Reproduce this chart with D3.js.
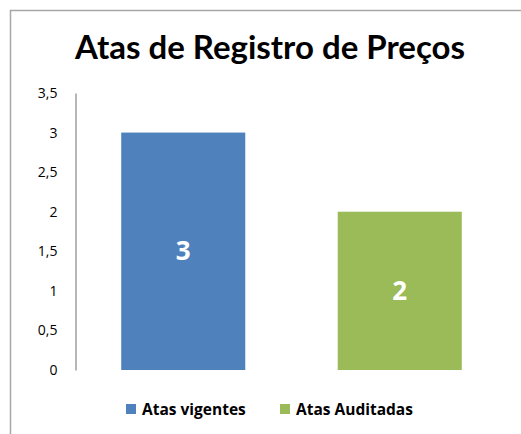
<!DOCTYPE html>
<html><head><meta charset="utf-8">
<script src="https://cdn.jsdelivr.net/npm/d3@7"></script>
<style>body{margin:0;background:#fff}svg{display:block}</style>
</head><body>
<svg id="c" width="521" height="434"></svg>
<script>
const categories = ["Atas vigentes", "Atas Auditadas"];
const values = [3, 2];
const colors = ["#4F81BD", "#9BBB59"];
const yTicks = [0, 0.5, 1, 1.5, 2, 2.5, 3, 3.5];
const title = "Atas de Registro de Preços";

const svg = d3.select("#c");
const font = "Lato, 'Open Sans', sans-serif";
const font2 = "'Open Sans', Lato, sans-serif";

// frame
svg.append("path").attr("d","M10.5,434 L10.5,10.5 L521,10.5")
  .attr("fill","none").attr("stroke","#a6a6a6").attr("stroke-width",1.5);

svg.append("text").attr("x",270).attr("y",59)
  .attr("text-anchor","middle").attr("font-family",font).attr("font-weight","bold")
  .attr("font-size",33).attr("fill","#000").text(title);

const y = d3.scaleLinear().domain([0,3.5]).range([370,93]);
const x = d3.scaleBand().domain(categories).range([75,508]).paddingInner(0.427).paddingOuter(0.2135);

const fmt = d => String(d).replace(".", ",");
const yAxis = d3.axisLeft(y).tickValues(yTicks).tickFormat(fmt).tickSize(0).tickPadding(18);
const ga = svg.append("g").attr("transform","translate(75.5,0)").call(yAxis);
ga.select(".domain").attr("stroke","#868686").attr("stroke-width",1.2);
ga.selectAll("text").attr("font-family",font2).attr("font-size",14).attr("fill","#000");

svg.selectAll("rect.bar").data(values).enter().append("rect").attr("class","bar")
  .attr("x",(d,i)=>x(categories[i])).attr("width",x.bandwidth())
  .attr("y",d=>y(d)).attr("height",d=>y(0)-y(d)).attr("fill",(d,i)=>colors[i]);

svg.selectAll("text.val").data(values).enter().append("text").attr("class","val")
  .attr("x",(d,i)=>x(categories[i])+x.bandwidth()/2)
  .attr("y",d=>(y(d)+y(0))/2+9)
  .attr("text-anchor","middle").attr("font-family",font2).attr("font-weight","bold")
  .attr("font-size",26).attr("fill","#fff").text(d=>d);

// legend
const legX = [126, 280];
const lg = svg.selectAll("g.leg").data(categories).enter().append("g").attr("class","leg")
  .attr("transform",(d,i)=>`translate(${legX[i]},404)`);
lg.append("rect").attr("width",10).attr("height",10).attr("fill",(d,i)=>colors[i]);
lg.append("text").attr("x",16).attr("y",11).attr("font-family",font2).attr("font-weight","bold")
  .attr("font-size",15.5).attr("fill","#000").text(d=>d);
</script>
</body></html>
